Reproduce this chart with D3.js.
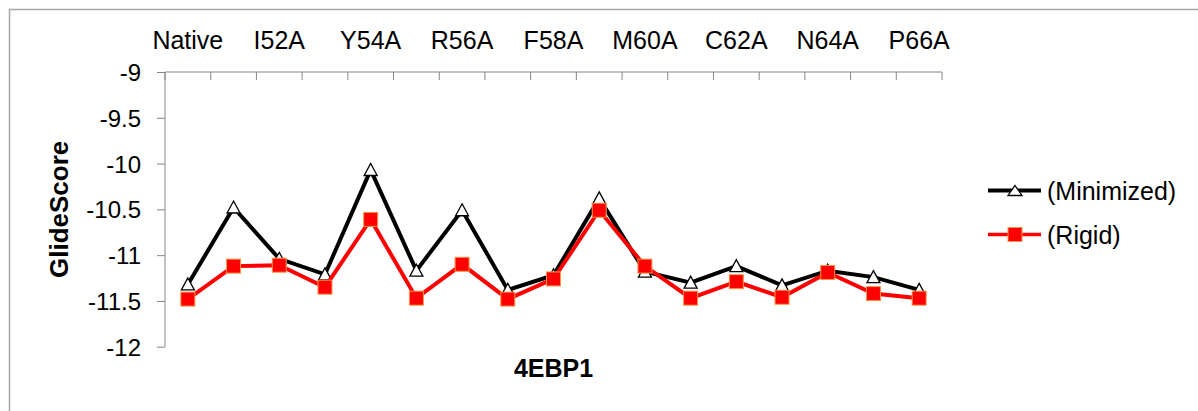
<!DOCTYPE html>
<html lang="en">
<head>
<meta charset="utf-8">
<title>GlideScore 4EBP1</title>
<script src="https://cdn.jsdelivr.net/npm/d3@7"></script>
<style>
  body { margin: 0; background: #fff; }
  text { font-family: "Liberation Sans", Arial, sans-serif; fill: #000; }
</style>
</head>
<body>
<script>
// 4EBP1 alanine scan, one point per residue (every other label is shown, like Excel does)
var categories = ["Native", "R51A", "I52A", "I53A", "Y54A", "D55A", "R56A", "K57A", "F58A",
                  "L59A", "M60A", "E61A", "C62A", "R63A", "N64A", "S65A", "P66A"]
var minimized = [-11.32, -10.48, -11.04, -11.21, -10.07, -11.17, -10.51, -11.38, -11.22,
                 -10.38, -11.18, -11.30, -11.12, -11.33, -11.17, -11.24, -11.38]
var rigid = [-11.48, -11.12, -11.11, -11.35, -10.61, -11.47, -11.10, -11.48, -11.26,
             -10.51, -11.12, -11.47, -11.29, -11.46, -11.19, -11.42, -11.47]
var yTicks = [-9, -9.5, -10, -10.5, -11, -11.5, -12]

var width = 1198, height = 411
// note: "top" is taken by window.top, so plot edges get a p prefix
var pLeft = 165, pRight = 942, pTop = 72, pBottom = 346.7

var svg = d3.select("body").append("svg")
  .attr("width", width)
  .attr("height", height)

// outer chart border
svg.append("rect")
  .attr("x", 9.5).attr("y", 9.5)
  .attr("width", 1300).attr("height", 500)
  .attr("fill", "none").attr("stroke", "#a6a6a6").attr("stroke-width", 1.5)

var x = d3.scaleBand().domain(categories).range([pLeft, pRight]).paddingInner(0).paddingOuter(0)
var y = d3.scaleLinear().domain([-12, -9]).range([pBottom, pTop])

// y axis (plain hyphen like the original, not the unicode minus)
var yAxis = svg.append("g")
  .attr("transform", "translate(" + pLeft + ",0)")
  .call(d3.axisLeft(y).tickValues(yTicks).tickSize(8).tickPadding(16).tickFormat(function(d){ return String(d) }))
yAxis.selectAll("path, line").attr("stroke", "#868686")
yAxis.select(".domain").attr("d", "M0," + pBottom + "V" + pTop)
yAxis.selectAll("text")
  .style("font-size", "24px")
  .attr("dy", "0.36em")

// category axis on top, ticks between categories pointing down
var xg = svg.append("g")
xg.append("line")
  .attr("x1", pLeft).attr("x2", pRight).attr("y1", pTop).attr("y2", pTop)
  .attr("stroke", "#868686")
var edges = categories.map(function(c){ return x(c) }).concat([pRight])
xg.selectAll("line.tk").data(edges).enter().append("line")
  .attr("class", "tk")
  .attr("x1", function(d){ return d }).attr("x2", function(d){ return d })
  .attr("y1", pTop).attr("y2", pTop + 8)
  .attr("stroke", "#868686")
xg.selectAll("text").data(categories.filter(function(c, i){ return i % 2 == 0 })).enter().append("text")
  .attr("x", function(d){ return x(d) + x.bandwidth() / 2 })
  .attr("y", 49)
  .attr("text-anchor", "middle")
  .style("font-size", "25px")
  .text(function(d){ return d })

// axis titles
svg.append("text")
  .attr("transform", "translate(68," + (pTop + pBottom) / 2 + ") rotate(-90)")
  .attr("text-anchor", "middle")
  .style("font-size", "26px").style("font-weight", "bold")
  .text("GlideScore")
svg.append("text")
  .attr("x", (pLeft + pRight) / 2).attr("y", 376.5)
  .attr("text-anchor", "middle")
  .style("font-size", "25px").style("font-weight", "bold")
  .text("4EBP1")

var cx = function(d, i){ return x(categories[i]) + x.bandwidth() / 2 }
var line = d3.line().x(cx).y(function(d){ return y(d) })

var tri = "M0,-6.5L6.5,5.5L-6.5,5.5Z"

// Minimized series
svg.append("path").datum(minimized)
  .attr("d", line).attr("fill", "none").attr("stroke", "#000").attr("stroke-width", 4)
svg.selectAll("path.tri").data(minimized).enter().append("path")
  .attr("class", "tri")
  .attr("d", tri)
  .attr("transform", function(d, i){ return "translate(" + cx(d, i) + "," + y(d) + ")" })
  .attr("fill", "#fff").attr("stroke", "#000").attr("stroke-width", 1.3)

// Rigid series
svg.append("path").datum(rigid)
  .attr("d", line).attr("fill", "none").attr("stroke", "#ff0000").attr("stroke-width", 4)
svg.selectAll("rect.sq").data(rigid).enter().append("rect")
  .attr("class", "sq")
  .attr("x", function(d, i){ return cx(d, i) - 7 })
  .attr("y", function(d){ return y(d) - 7 })
  .attr("width", 14).attr("height", 14)
  .attr("fill", "#ff0000").attr("stroke", "#f79646").attr("stroke-width", 1)

// legend
var legend = [{name: "(Minimized)", color: "#000", shape: "tri", y: 190.5},
              {name: "(Rigid)", color: "#ff0000", shape: "sq", y: 234.5}]
var lg = svg.selectAll("g.leg").data(legend).enter().append("g")
  .attr("class", "leg")
  .attr("transform", function(d){ return "translate(988," + d.y + ")" })
lg.append("line")
  .attr("x1", 0).attr("x2", 53).attr("y1", 0).attr("y2", 0)
  .attr("stroke", function(d){ return d.color }).attr("stroke-width", function(d){ return d.shape == "tri" ? 4 : 3.5 })
lg.filter(function(d){ return d.shape == "tri" }).append("path")
  .attr("d", "M0,-5L7,5L-7,5Z")
  .attr("transform", "translate(27,0)")
  .attr("fill", "#fff").attr("stroke", "#000").attr("stroke-width", 1.3)
lg.filter(function(d){ return d.shape == "sq" }).append("rect")
  .attr("x", 20).attr("y", -7).attr("width", 14).attr("height", 14)
  .attr("fill", "#ff0000").attr("stroke", "#f79646")
lg.append("text")
  .attr("x", 59).attr("y", 0).attr("dy", "0.36em")
  .style("font-size", "25px")
  .text(function(d){ return d.name })
</script>
</body>
</html>
